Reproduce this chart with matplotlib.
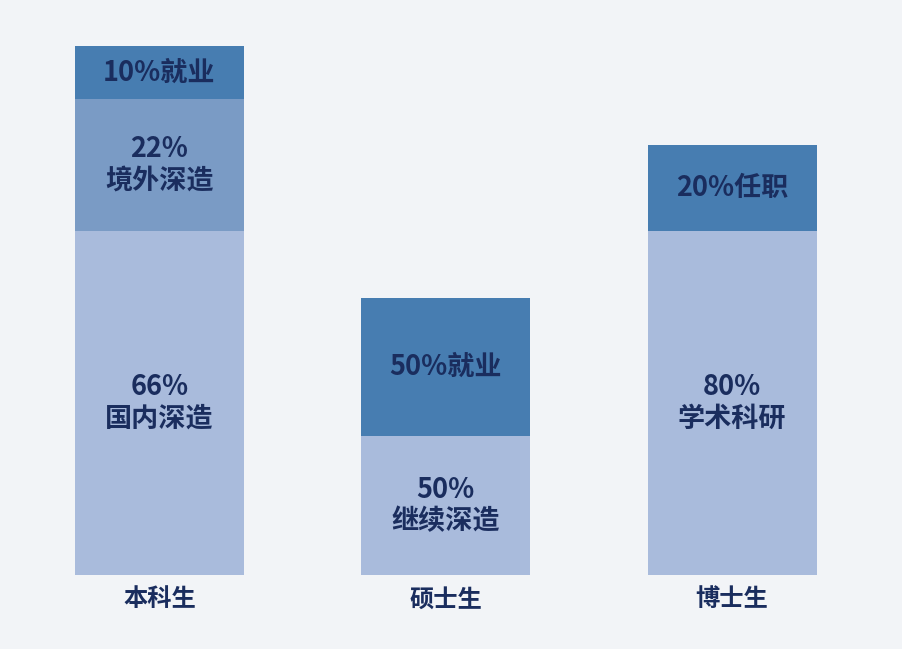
import matplotlib
matplotlib.use("Agg")
import matplotlib.pyplot as plt

plt.rcParams['font.family'] = ['Noto Sans CJK SC', 'DejaVu Sans']

categories = ["本科生", "硕士生", "博士生"]
# segment heights (bottom to top) per category, and labels
seg_values = [
    [65, 25, 10],
    [26.2, 26.2],
    [65, 16.3],
]
seg_labels = [
    ["66%\n国内深造", "22%\n境外深造", "10%就业"],
    ["50%\n继续深造", "50%就业"],
    ["80%\n学术科研", "20%任职"],
]
seg_colors = [
    ["#a9bbdc", "#7a9bc5", "#477db1"],
    ["#a9bbdc", "#477db1"],
    ["#a9bbdc", "#477db1"],
]

bg = "#f2f4f7"
txt = "#1a2d5e"

fig = plt.figure(figsize=(9.03, 6.49), dpi=100, facecolor=bg)
ax = fig.add_axes([16.25 / 903, 74 / 649, (875.25 - 16.25) / 903, 529 / 649])
ax.set_facecolor(bg)

width = 0.59
for i, (vals, labs, cols) in enumerate(zip(seg_values, seg_labels, seg_colors)):
    bottom = 0
    for v, lab, c in zip(vals, labs, cols):
        ax.bar(i, v, width=width, bottom=bottom, color=c, edgecolor="none")
        ax.text(i, bottom + v / 2, lab, ha="center", va="center", fontsize=19.5,
                color=txt, linespacing=1.15, fontweight="bold")
        bottom += v

ax.set_xlim(-0.5, 2.5)
ax.set_ylim(0, 100)
ax.set_xticks(range(len(categories)))
ax.set_xticklabels(categories, fontsize=17.5, color=txt, fontweight="bold")
ax.tick_params(axis="x", length=0, pad=9)
ax.set_yticks([])
for s in ax.spines.values():
    s.set_visible(False)

fig.savefig("out.png", dpi=100, facecolor=bg)
